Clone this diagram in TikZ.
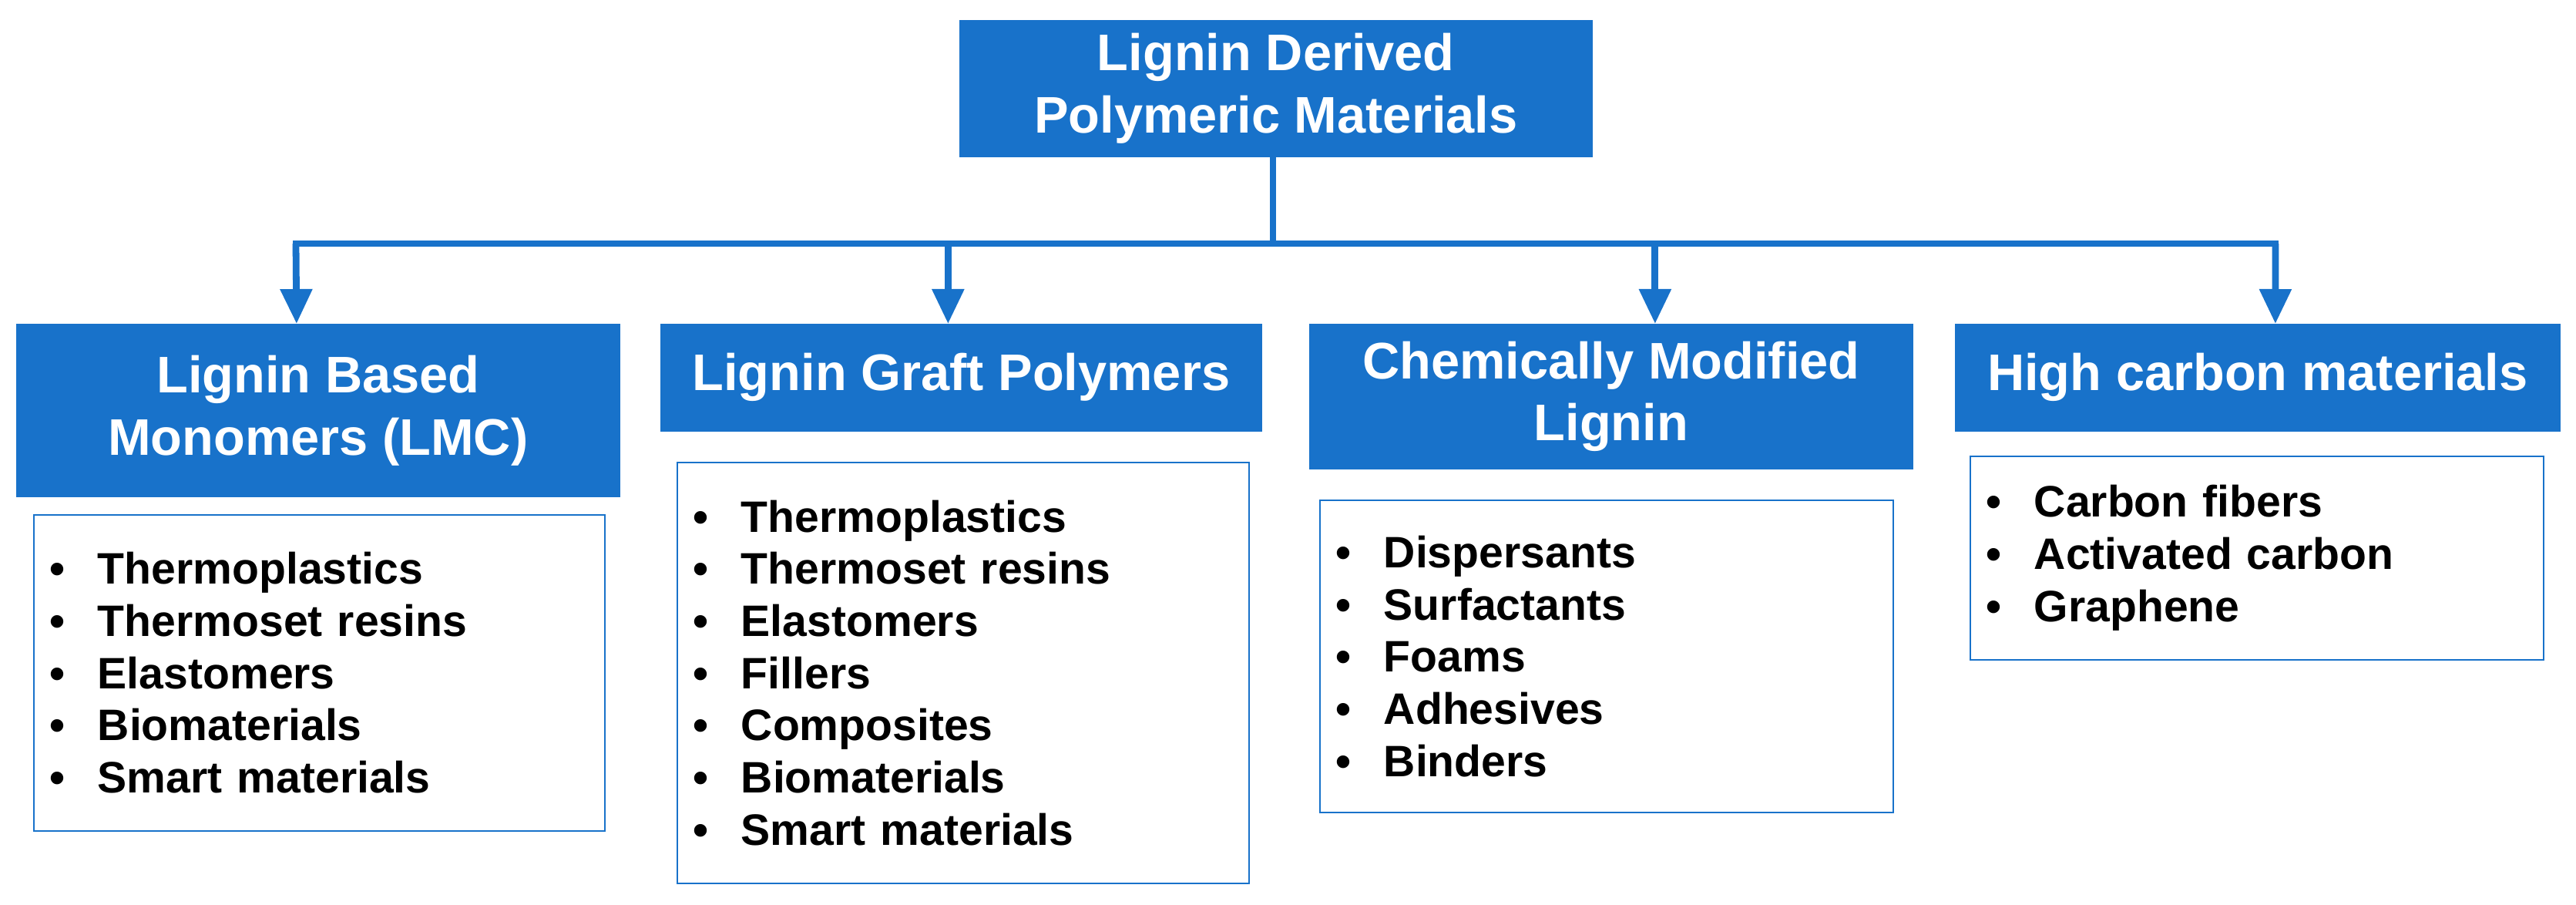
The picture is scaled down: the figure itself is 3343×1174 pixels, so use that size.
\documentclass[tikz,border=0pt]{standalone}
\usepackage{fontspec}
\setmainfont{Liberation Sans}
\usetikzlibrary{arrows.meta}
\definecolor{lb}{RGB}{24,114,202}
\begin{document}
\begin{tikzpicture}[x=0.2mm,y=-0.2mm,
  hdr/.style={fill=lb,draw=lb,text=white,font=\bfseries\fontsize{38}{46}\selectfont,align=center,inner sep=0pt},
  lst/.style={draw=lb,line width=1pt,fill=white,font=\bfseries\fontsize{32.5}{38.5}\selectfont,align=left,inner xsep=4.2mm,inner ysep=0pt,anchor=north west},
  conn/.style={draw=lb,line width=5pt},
  arr/.style={conn,-{Triangle[width=8mm,length=9mm]}}]
\useasboundingbox (0,0) rectangle (3343,1174);
\newcommand{\bl}{\makebox[12.4mm][l]{\textbullet}}
\node[hdr,minimum width=164.2mm,minimum height=35.4mm,anchor=north west] (top) at (1245,26) {Lignin Derived\\Polymeric Materials};
\node[hdr,minimum width=156.6mm,minimum height=44.8mm,anchor=north west] (b1) at (21,420) {Lignin Based\\Monomers (LMC)};
\node[hdr,minimum width=156mm,minimum height=27.8mm,anchor=north west] (b2) at (857,420) {Lignin Graft Polymers};
\node[hdr,minimum width=156.6mm,minimum height=37.6mm,anchor=north west] (b3) at (1699,420) {Chemically Modified\\Lignin};
\node[hdr,minimum width=157mm,minimum height=27.8mm,anchor=north west] (b4) at (2537,420) {High carbon materials};
\node[lst,minimum height=82mm,text width=139.8mm] (l1) at (43,667) {\bl Thermoplastics\\\bl Thermoset resins\\\bl Elastomers\\\bl Biomaterials\\\bl Smart materials};
\node[lst,minimum height=109.2mm,text width=140mm] (l2) at (878,599) {\bl Thermoplastics\\\bl Thermoset resins\\\bl Elastomers\\\bl Fillers\\\bl Composites\\\bl Biomaterials\\\bl Smart materials};
\node[lst,minimum height=81mm,text width=140.4mm] (l3) at (1712,648) {\bl Dispersants\\\bl Surfactants\\\bl Foams\\\bl Adhesives\\\bl Binders};
\node[lst,minimum height=52.8mm,text width=140.4mm] (l4) at (2556,591) {\bl Carbon fibers\\\bl Activated carbon\\\bl Graphene};
\coordinate (j) at (1652,316);
\coordinate (a1) at (384,316);
\coordinate (a4) at (2953,316);
\draw[conn] (top.south -| j) -- (j);
\draw[conn,line cap=rect] (a1) -- (a4);
\draw[arr] (a1) -- ([xshift=-5.6mm]b1.north);
\draw[arr] (b2.north |- j) ++(-3.4mm,0) -- ([xshift=-3.4mm]b2.north);
\draw[arr] (b3.north |- j) ++(11.4mm,0) -- ([xshift=11.4mm]b3.north);
\draw[arr] (a4) -- ([xshift=4.6mm]b4.north);
\end{tikzpicture}
\end{document}
